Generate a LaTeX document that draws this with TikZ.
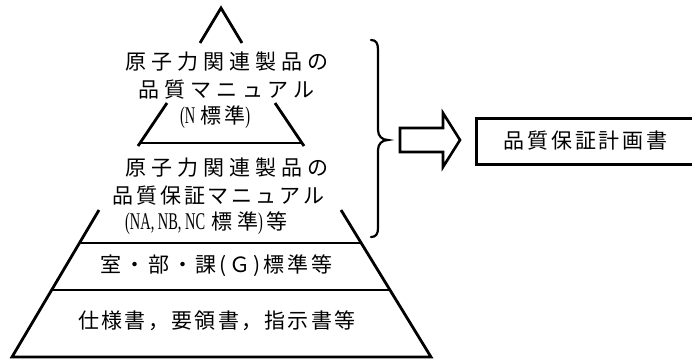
\documentclass[tikz,border=0pt]{standalone}
\usepackage{fontspec}
\usepackage{graphicx}
\setmainfont{Noto Sans CJK JP}
\newfontfamily\cjkT[LetterSpace=11]{Noto Sans CJK JP}
\newfontfamily\cjkN[LetterSpace=14]{Noto Sans CJK JP}
\newfontfamily\cjkW[LetterSpace=24]{Noto Sans CJK JP}
\newfontfamily\latf{Liberation Serif}
\newcommand{\latpart}[1]{{\latf\fontsize{24}{24}\selectfont\scalebox{0.6}[1]{#1}}}
\begin{document}
\begin{tikzpicture}[x=1pt,y=-1pt,
  pyr/.style={line width=2.8pt},
  brc/.style={line width=2.2pt, line cap=round},
  hollow/.style={line width=2.6pt, line join=miter},
  planbox/.style={draw, line width=2.6pt, anchor=north west, minimum width=240pt, minimum height=46pt, inner sep=0pt},
  lbl/.style={inner sep=0pt, anchor=west, font=\fontsize{21}{21}\selectfont}]
\useasboundingbox (0,0) rectangle (692,360);
\clip (0,0) rectangle (692,360);
\fill[white] (0,0) rectangle (692,360);

% pyramid
\coordinate (apex) at (221,8);
\coordinate (bl) at (12,357);
\coordinate (br) at (431,357);
\draw[pyr] (200,43) -- (apex) -- (242,43);
\draw[pyr] (167,103) -- (138,146);
\draw[pyr] (275,103) -- (304,146);
\draw[pyr] (140,143) -- (302,143);
\draw[pyr] (99,210) -- (bl) -- (br) -- (341,210);
\draw[pyr] (81,243) -- (361,243);
\draw[pyr] (53,290) -- (389,290);

% texts in pyramid
\node[lbl] (t1a) at (125,62) {\cjkW 原子力関連製品の};
\node[lbl] (t1b) at (138,90) {\cjkW 品質マニュアル};
\node[lbl] (t1c) at (180,117) {\latpart{(N}\hspace{5pt}{\cjkN 標準}\latpart{)}};
\node[lbl] (t2a) at (125,168) {\cjkW 原子力関連製品の};
\node[lbl] (t2b) at (112,196) {\cjkN 品質保証マニュアル};
\node[lbl] (t2c) at (125,223) {\latpart{(NA, NB, NC}\hspace{6pt}{\cjkW 標準}\latpart{)}\hspace{3pt}{\cjkN 等}};
\node[lbl] (t3) at (100,266) {\cjkN 室・部・課(Ｇ)標準等};
\node[lbl] (t4) at (78,321) {\cjkT 仕様書，要領書，指示書等};

% brace
\coordinate (btip) at (388,140);
\draw[brc] (371,40) .. controls (376,40) and (378,43) .. (378,50) -- (378,130)
  .. controls (378,136) and (382,140) .. (btip)
  .. controls (382,140) and (378,144) .. (378,150) -- (378,228)
  .. controls (378,234) and (376,237) .. (371,237);

% plan box
\node[planbox] (plan) at (475,117) {};
\node[lbl] (plantxt) at (503,141) {\cjkN 品質保証計画書};

% hollow arrow
\draw[hollow] (400,128) -- (443,128) -- (443,113) -- (460,140) -- (443,167) -- (443,152) -- (400,152) -- cycle;
\end{tikzpicture}
\end{document}
